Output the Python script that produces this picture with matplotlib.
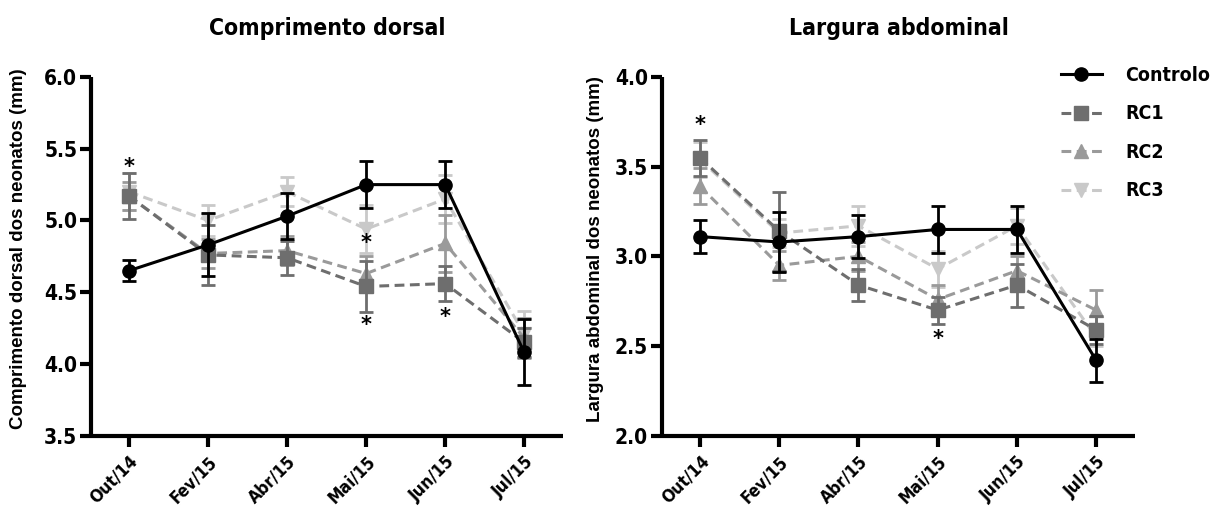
import matplotlib
matplotlib.use("Agg")
import matplotlib.pyplot as plt
import matplotlib.font_manager as fm

# ---------------- data ----------------
categories = ["Out/14", "Fev/15", "Abr/15", "Mai/15", "Jun/15", "Jul/15"]
series_names = ["Controlo", "RC1", "RC2", "RC3"]

# Comprimento dorsal (mm)
dorsal_ctrl = [4.65, 4.83, 5.03, 5.25, 5.25, 4.08]
dorsal_ctrl_err = [0.075, 0.22, 0.16, 0.165, 0.165, 0.23]
dorsal_rc1 = [5.17, 4.76, 4.74, 4.54, 4.56, 4.15]
dorsal_rc1_err = [0.16, 0.21, 0.12, 0.18, 0.12, 0.10]
dorsal_rc2 = [5.17, 4.77, 4.79, 4.63, 4.84, 4.18]
dorsal_rc2_err = [0.10, 0.10, 0.10, 0.12, 0.20, 0.14]
dorsal_rc3 = [5.20, 5.00, 5.20, 4.94, 5.15, 4.21]
dorsal_rc3_err = [0.13, 0.11, 0.10, 0.17, 0.17, 0.16]
dorsal_star_idx = [0, 3, 3, 4]
dorsal_star_y = [5.37, 4.84, 4.27, 4.33]

# Largura abdominal (mm)
abd_ctrl = [3.11, 3.08, 3.11, 3.15, 3.15, 2.42]
abd_ctrl_err = [0.09, 0.17, 0.12, 0.13, 0.13, 0.12]
abd_rc1 = [3.55, 3.14, 2.84, 2.70, 2.84, 2.59]
abd_rc1_err = [0.10, 0.22, 0.09, 0.075, 0.12, 0.08]
abd_rc2 = [3.39, 2.95, 3.00, 2.76, 2.92, 2.70]
abd_rc2_err = [0.10, 0.08, 0.08, 0.08, 0.08, 0.11]
abd_rc3 = [3.54, 3.13, 3.17, 2.93, 3.17, 2.55]
abd_rc3_err = [0.10, 0.08, 0.11, 0.10, 0.10, 0.05]
abd_star_idx = [0, 3]
abd_star_y = [3.73, 2.54]

# ---------------- fonts ----------------
names = {f.name for f in fm.fontManager.ttflist}
if "Liberation Sans Narrow" in names:
    COND = dict(family="Liberation Sans Narrow")
elif any(f.name == "DejaVu Sans" and f.stretch == "condensed" for f in fm.fontManager.ttflist):
    COND = dict(family="DejaVu Sans", stretch="condensed")
else:
    COND = dict(family="Roboto")
LABF = dict(family="Liberation Sans") if "Liberation Sans" in names else dict(family="DejaVu Sans")

# ---------------- styles ----------------
styles = [
    dict(color="black", marker="o", ls="-", ms=9.5, z=6),
    dict(color="#6e6e6e", marker="s", ls="--", ms=9.5, z=5),
    dict(color="#9a9a9a", marker="^", ls="--", ms=9.5, z=4),
    dict(color="#c9c9c9", marker="v", ls="--", ms=9.5, z=3),
]

fig = plt.figure(figsize=(12.25, 5.15), dpi=100)
ax1 = fig.add_axes([91 / 1225, 1 - 435.7 / 515, 472 / 1225, 358.7 / 515])
ax2 = fig.add_axes([662 / 1225, 1 - 435.7 / 515, 473 / 1225, 358.7 / 515])

x = list(range(len(categories)))


def draw(ax, data, errs, stars_idx, stars_y, ylim, title, ylabel):
    handles = []
    for (vals, err), st, name in zip(zip(data, errs), styles, series_names):
        ax.errorbar(x, vals, yerr=err, fmt="none", ecolor=st["color"], elinewidth=2.0,
                    capsize=5, capthick=2.0, zorder=st["z"])
        if st["ls"] == "--":
            ln, = ax.plot(x, vals, color=st["color"], lw=2.2, marker=st["marker"], ms=st["ms"],
                          dashes=(3.2, 1.8), zorder=st["z"] + 0.5, label=name)
        else:
            ln, = ax.plot(x, vals, color=st["color"], lw=2.2, marker=st["marker"], ms=st["ms"],
                          zorder=st["z"] + 0.5, label=name)
        handles.append(ln)
    for i, yv in zip(stars_idx, stars_y):
        ax.text(x[i], yv, "*", ha="center", va="center", fontsize=15, fontweight="bold",
                family="DejaVu Sans", zorder=10)
    ax.set_xlim(-0.48, 5.49)
    ax.set_ylim(*ylim)
    n = int(round((ylim[1] - ylim[0]) / 0.5)) + 1
    ax.set_yticks([ylim[0] + 0.5 * k for k in range(n)])
    ax.set_yticklabels([f"{ylim[0] + 0.5 * k:.1f}" for k in range(n)],
                       fontsize=15, fontweight="bold", **COND)
    ax.set_xticks(x)
    ax.set_xticklabels(categories, rotation=45, ha="right", rotation_mode="anchor",
                       fontsize=12.5, fontweight="bold", **COND)
    for sp in ["top", "right"]:
        ax.spines[sp].set_visible(False)
    for sp in ["left", "bottom"]:
        ax.spines[sp].set_linewidth(3)
        ax.spines[sp].set_capstyle("butt")
    ax.tick_params(axis="both", width=3, length=8, pad=2)
    ax.tick_params(axis="x", pad=4)
    ax.set_title(title, fontsize=16.5, fontweight="bold", pad=30, **COND)
    ax.set_ylabel(ylabel, fontsize=13.5, fontweight="bold", **LABF)
    return handles


h = draw(ax1, [dorsal_ctrl, dorsal_rc1, dorsal_rc2, dorsal_rc3],
         [dorsal_ctrl_err, dorsal_rc1_err, dorsal_rc2_err, dorsal_rc3_err],
         dorsal_star_idx, dorsal_star_y, (3.5, 6.0), "Comprimento dorsal",
         "Comprimento dorsal dos neonatos (mm)")
ax1.yaxis.set_label_coords(-0.135, 0.52)

draw(ax2, [abd_ctrl, abd_rc1, abd_rc2, abd_rc3],
     [abd_ctrl_err, abd_rc1_err, abd_rc2_err, abd_rc3_err],
     abd_star_idx, abd_star_y, (2.0, 4.0), "Largura abdominal",
     "Largura abdominal dos neonatos (mm)")
ax2.yaxis.set_label_coords(-0.122, 0.52)

leg = fig.legend(handles=h, labels=series_names, loc="upper left",
                 bbox_to_anchor=(1061 / 1225, 1 - 66 / 515), frameon=False,
                 prop=dict(size=14, weight="bold", **COND), handlelength=2.1,
                 handletextpad=1.2, labelspacing=1.0, borderpad=0, borderaxespad=0)

fig.savefig("out.png", dpi=100)
